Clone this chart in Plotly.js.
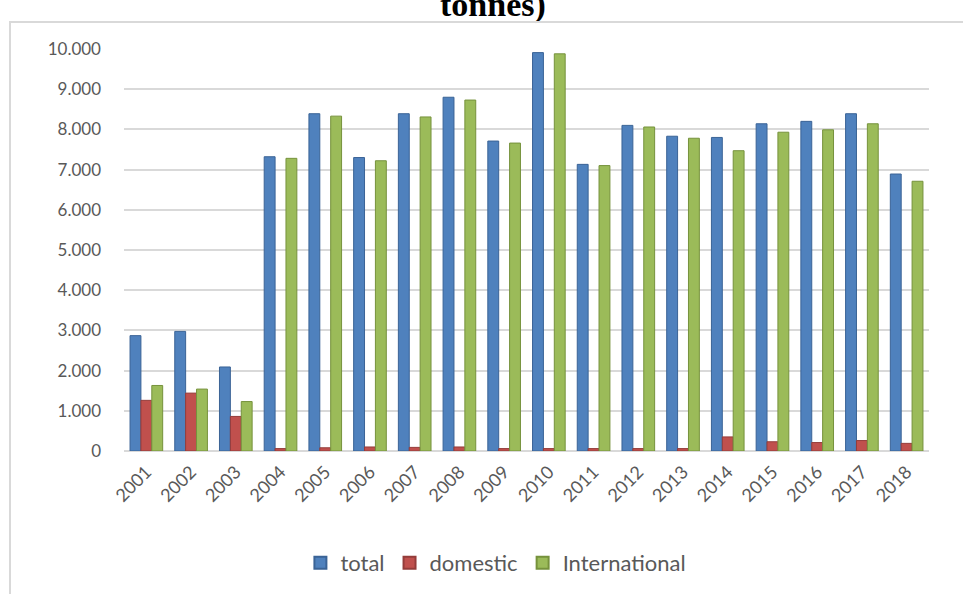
<!DOCTYPE html>
<html>
<head>
<meta charset="utf-8">
<script src="https://cdn.plot.ly/plotly-3.0.1.min.js"></script>
<style>
  html, body { margin: 0; padding: 0; background: #ffffff; }
  #wrap { position: relative; width: 963px; height: 594px; overflow: hidden; }
  #chart { width: 963px; height: 594px; }
  #frame { position: absolute; left: 9px; top: 21px; width: 2000px; height: 2000px;
           border-left: 2px solid #d9d9d9; border-top: 2px solid #d9d9d9; pointer-events: none; }
</style>
</head>
<body>
<div id="wrap">
  <div id="chart"></div>
  <div id="frame"></div>
</div>
<script>
const years = ["2001","2002","2003","2004","2005","2006","2007","2008","2009",
               "2010","2011","2012","2013","2014","2015","2016","2017","2018"];
const total = [2870, 2975, 2090, 7320, 8390, 7300, 8390, 8800, 7710,
               9910, 7130, 8100, 7830, 7800, 8140, 8200, 8390, 6890];
const domestic = [1260, 1440, 860, 60, 80, 100, 90, 100, 60,
                  60, 60, 60, 60, 350, 230, 210, 260, 190];
const international = [1630, 1540, 1230, 7280, 8330, 7220, 8310, 8730, 7660,
                       9880, 7100, 8060, 7780, 7470, 7930, 7990, 8140, 6710];
const yTickVals = [0, 1000, 2000, 3000, 4000, 5000, 6000, 7000, 8000, 9000, 10000];
const yTickText = ["0", "1.000", "2.000", "3.000", "4.000", "5.000",
                   "6.000", "7.000", "8.000", "9.000", "10.000"];
const seriesNames = ["total", "domestic", "International"];
const seriesColors = ["#4f81bd", "#c0504d", "#9bbb59"];
const seriesLines = ["#3a6396", "#943c3a", "#76923c"];

const seriesData = [total, domestic, international];
const traces = seriesData.map((vals, i) => ({
  type: "bar",
  name: seriesNames[i],
  x: years,
  y: vals,
  marker: { color: seriesColors[i], line: { color: seriesLines[i], width: 1 } },
  hoverinfo: "x+y+name"
}));

const tickFont = { family: "Lato, 'Open Sans', sans-serif", size: 17, color: "#595959" };

const layout = {
  width: 963,
  height: 594,
  paper_bgcolor: "#ffffff",
  plot_bgcolor: "#ffffff",
  margin: { l: 124, r: 34, t: 49, b: 142, pad: 0 },
  barmode: "group",
  bargap: 0.27,
  bargroupgap: 0,
  showlegend: true,
  legend: {
    orientation: "h",
    x: 0.462, xanchor: "center",
    y: -0.275, yanchor: "middle",
    font: { family: "Lato, 'Open Sans', sans-serif", size: 22, color: "#595959" },
    traceorder: "normal",
    itemsizing: "constant"
  },
  xaxis: {
    type: "category",
    tickangle: -45,
    tickfont: { family: "Lato, 'Open Sans', sans-serif", size: 18, color: "#595959" },
    showgrid: false,
    showline: false,
    zeroline: false,
    ticks: "",
    ticklabelstandoff: 6
  },
  yaxis: {
    range: [0, 10000],
    tickmode: "array",
    tickvals: yTickVals,
    ticktext: yTickText,
    tickfont: tickFont,
    showgrid: true,
    gridcolor: "#d9d9d9",
    gridwidth: 2,
    zeroline: true,
    zerolinecolor: "#d9d9d9",
    zerolinewidth: 2,
    showline: false,
    ticks: "",
    ticklabelstandoff: 22
  },
  annotations: [{
    text: "<b>tonnes)</b>",
    xref: "paper", yref: "paper",
    x: 0.458, y: 1, xanchor: "center", yanchor: "middle",
    yshift: 44,
    showarrow: false,
    font: { family: "'Liberation Serif', 'Times New Roman', serif", size: 34, color: "#000000" }
  }]
};

Plotly.newPlot("chart", traces, layout, { displayModeBar: false, staticPlot: true });
</script>
</body>
</html>
